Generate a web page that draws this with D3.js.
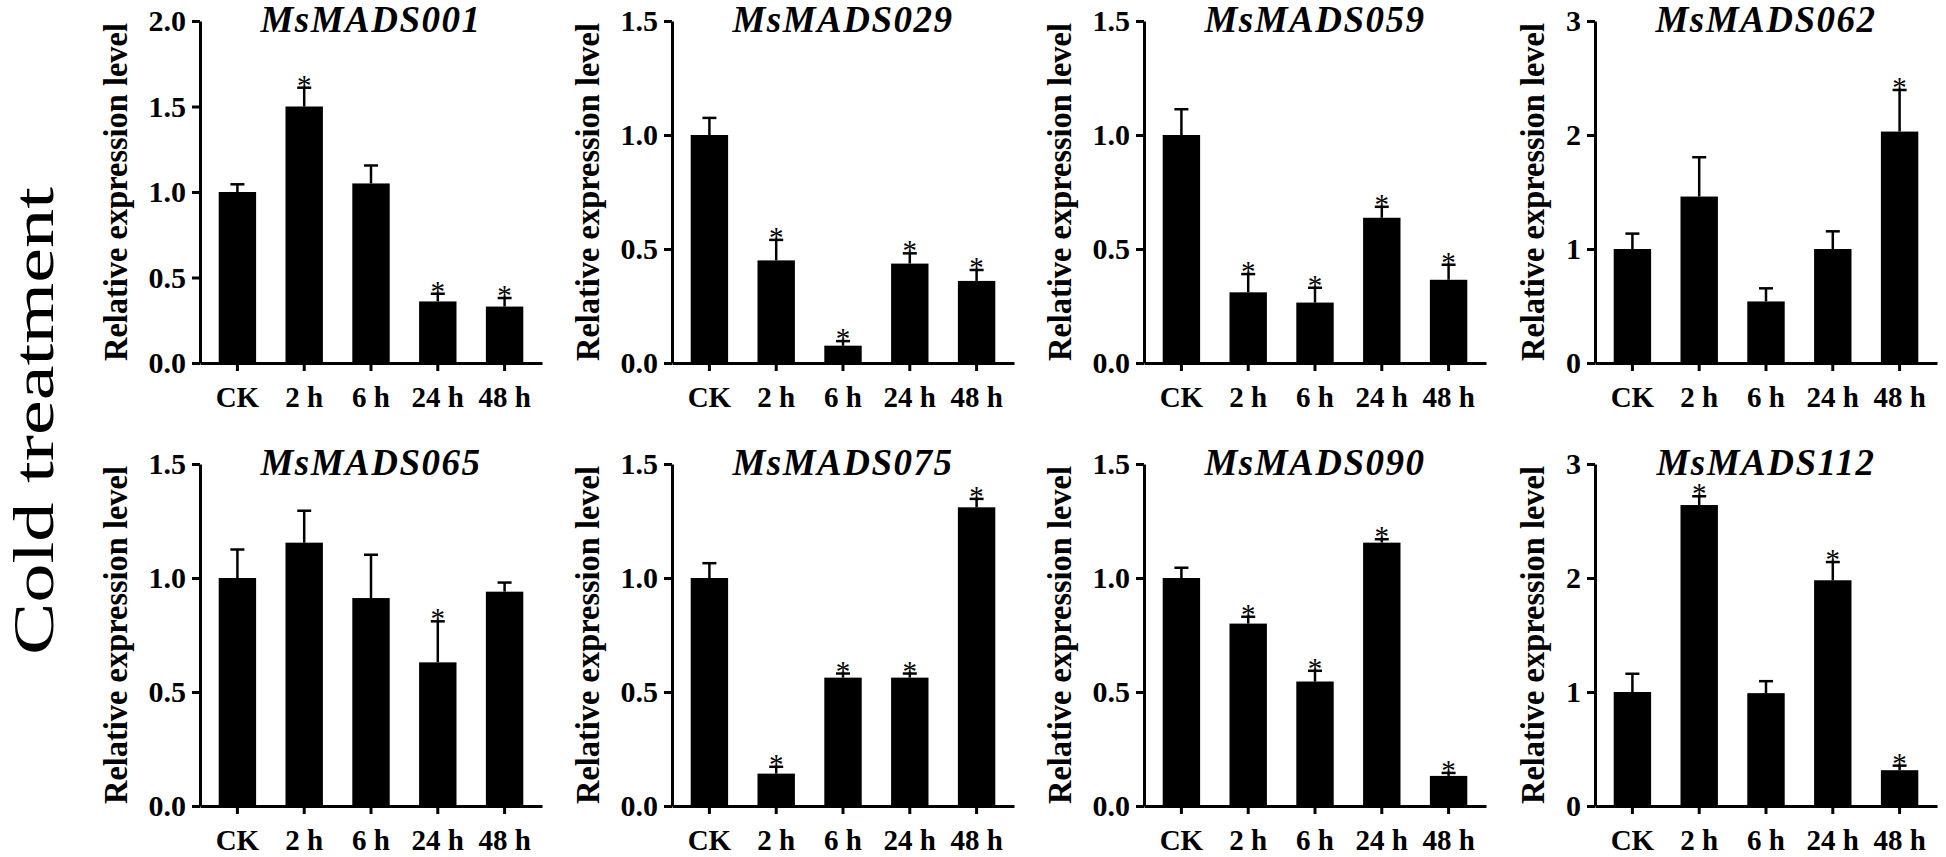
<!DOCTYPE html>
<html>
<head>
<meta charset="utf-8">
<script src="https://cdn.jsdelivr.net/npm/d3@7"></script>
<style>
  html, body { margin: 0; padding: 0; background: #fff; }
  svg { display: block; }
  text { font-family: "Liberation Serif", "Times New Roman", serif; fill: #000; }
</style>
</head>
<body>
<svg id="chart" width="1946" height="857"></svg>
<script>
// ---------------- DATA ----------------
const categories = ["CK", "2 h", "6 h", "24 h", "48 h"];
const genes = ["MsMADS001", "MsMADS029", "MsMADS059", "MsMADS062",
               "MsMADS065", "MsMADS075", "MsMADS090", "MsMADS112"];

const mads001Mean = [1.00, 1.50, 1.05, 0.36, 0.33];
const mads001Err  = [0.045, 0.11, 0.105, 0.045, 0.05];
const mads001Sig  = [false, true, false, true, true];

const mads029Mean = [1.00, 0.45, 0.076, 0.436, 0.36];
const mads029Err  = [0.075, 0.09, 0.02, 0.045, 0.048];
const mads029Sig  = [false, true, true, true, true];

const mads059Mean = [1.00, 0.31, 0.265, 0.637, 0.365];
const mads059Err  = [0.113, 0.08, 0.065, 0.048, 0.066];
const mads059Sig  = [false, true, true, true, true];

const mads062Mean = [1.00, 1.46, 0.54, 1.00, 2.03];
const mads062Err  = [0.135, 0.345, 0.115, 0.155, 0.365];
const mads062Sig  = [false, false, false, false, true];

const mads065Mean = [1.00, 1.155, 0.912, 0.63, 0.94];
const mads065Err  = [0.125, 0.14, 0.19, 0.18, 0.04];
const mads065Sig  = [false, false, false, true, false];

const mads075Mean = [1.00, 0.142, 0.563, 0.563, 1.31];
const mads075Err  = [0.065, 0.03, 0.018, 0.018, 0.037];
const mads075Sig  = [false, true, true, true, true];

const mads090Mean = [1.00, 0.80, 0.546, 1.155, 0.132];
const mads090Err  = [0.045, 0.03, 0.047, 0.015, 0.013];
const mads090Sig  = [false, true, true, true, true];

const mads112Mean = [1.00, 2.64, 0.99, 1.98, 0.314];
const mads112Err  = [0.16, 0.077, 0.105, 0.16, 0.04];
const mads112Sig  = [false, true, false, true, true];

const yMaxes = [2, 1.5, 1.5, 3, 1.5, 1.5, 1.5, 3];
const ticksDecimal2 = [0, 0.5, 1.0, 1.5, 2.0];
const ticksDecimal15 = [0, 0.5, 1.0, 1.5];
const ticksInteger3 = [0, 1, 2, 3];

const yAxisTitle = "Relative expression level";
const sideTitle = "Cold treatment";

// ---------------- LAYOUT ----------------
const means = [mads001Mean, mads029Mean, mads059Mean, mads062Mean, mads065Mean, mads075Mean, mads090Mean, mads112Mean];
const errs  = [mads001Err, mads029Err, mads059Err, mads062Err, mads065Err, mads075Err, mads090Err, mads112Err];
const sigs  = [mads001Sig, mads029Sig, mads059Sig, mads062Sig, mads065Sig, mads075Sig, mads090Sig, mads112Sig];
const tickSets = [ticksDecimal2, ticksDecimal15, ticksDecimal15, ticksInteger3, ticksDecimal15, ticksDecimal15, ticksDecimal15, ticksInteger3];

const colLeft = [200, 672, 1144, 1595];
const rowTop = [21, 464];
const plotW = 342, plotH = 342;
const serif = "'Liberation Serif', 'Times New Roman', serif";

const svg = d3.select("#chart");

svg.append("text")
  .attr("transform", `translate(53, 421) rotate(-90)`)
  .attr("text-anchor", "middle")
  .attr("font-size", 56)
  .attr("textLength", 468)
  .attr("lengthAdjust", "spacingAndGlyphs")
  .text(sideTitle);

genes.forEach((gene, i) => {
  const col = i % 4, row = Math.floor(i / 4);
  const g = svg.append("g").attr("transform", `translate(${colLeft[col]},${rowTop[row]})`);

  const x = d3.scaleBand().domain(categories).range([0, plotW]).paddingInner(0.44).paddingOuter(0.28);
  const y = d3.scaleLinear().domain([0, yMaxes[i]]).range([plotH, 0]);
  const isInt = yMaxes[i] === 3;
  const fmt = isInt ? d3.format("d") : d3.format(".1f");

  const data = categories.map((c, k) => ({ c, m: means[i][k], e: errs[i][k], s: sigs[i][k] }));

  // bars
  g.selectAll("rect.bar").data(data).join("rect")
    .attr("class", "bar")
    .attr("x", d => x(d.c))
    .attr("width", x.bandwidth())
    .attr("y", d => y(d.m))
    .attr("height", d => y(0) - y(d.m))
    .attr("fill", "#000");

  // error bars (upper only)
  const capHalf = 7;
  const eb = g.selectAll("g.err").data(data).join("g").attr("class", "err");
  eb.append("line")
    .attr("x1", d => x(d.c) + x.bandwidth() / 2)
    .attr("x2", d => x(d.c) + x.bandwidth() / 2)
    .attr("y1", d => y(d.m))
    .attr("y2", d => y(d.m + d.e))
    .attr("stroke", "#000").attr("stroke-width", 2.5);
  eb.append("line")
    .attr("x1", d => x(d.c) + x.bandwidth() / 2 - capHalf)
    .attr("x2", d => x(d.c) + x.bandwidth() / 2 + capHalf)
    .attr("y1", d => y(d.m + d.e))
    .attr("y2", d => y(d.m + d.e))
    .attr("stroke", "#000").attr("stroke-width", 2.5);

  // significance stars
  g.selectAll("text.star").data(data.filter(d => d.s)).join("text")
    .attr("class", "star")
    .attr("x", d => x(d.c) + x.bandwidth() / 2)
    .attr("y", d => y(d.m + d.e) + 7)
    .attr("text-anchor", "middle")
    .attr("font-size", 29)
    .text("*");

  // y axis
  const ya = g.append("g").call(
    d3.axisLeft(y).tickValues(tickSets[i]).tickFormat(fmt).tickSize(8).tickSizeOuter(0)
  );
  ya.select(".domain").attr("stroke", "#000").attr("stroke-width", 3);
  ya.selectAll(".tick line").attr("stroke", "#000").attr("stroke-width", 3);
  ya.selectAll(".tick text")
    .attr("x", -14)
    .attr("font-size", 30)
    .attr("font-weight", "bold")
    .attr("font-family", serif)
    .attr("fill", "#000");

  // x axis
  const xa = g.append("g").attr("transform", `translate(0,${plotH})`).call(
    d3.axisBottom(x).tickSize(8).tickSizeOuter(0)
  );
  xa.select(".domain").attr("stroke", "#000").attr("stroke-width", 3);
  xa.selectAll(".tick line").attr("stroke", "#000").attr("stroke-width", 3);
  xa.selectAll(".tick text")
    .attr("y", 44).attr("dy", null)
    .attr("font-size", 29)
    .attr("font-weight", "bold")
    .attr("font-family", serif)
    .attr("fill", "#000");

  // y axis title
  const yTitleOffset = isInt ? 51 : 73;
  g.append("text")
    .attr("transform", `translate(${-yTitleOffset},${plotH / 2}) rotate(-90)`)
    .attr("text-anchor", "middle")
    .attr("font-size", 33)
    .attr("font-weight", "bold")
    .attr("textLength", 338)
    .attr("lengthAdjust", "spacingAndGlyphs")
    .text(yAxisTitle);

  // gene title
  g.append("text")
    .attr("x", plotW / 2)
    .attr("y", 11)
    .attr("text-anchor", "middle")
    .attr("font-size", 37)
    .attr("font-weight", "bold")
    .attr("font-style", "italic")
    .attr("letter-spacing", 1.5)
    .text(gene);
});
</script>
</body>
</html>
